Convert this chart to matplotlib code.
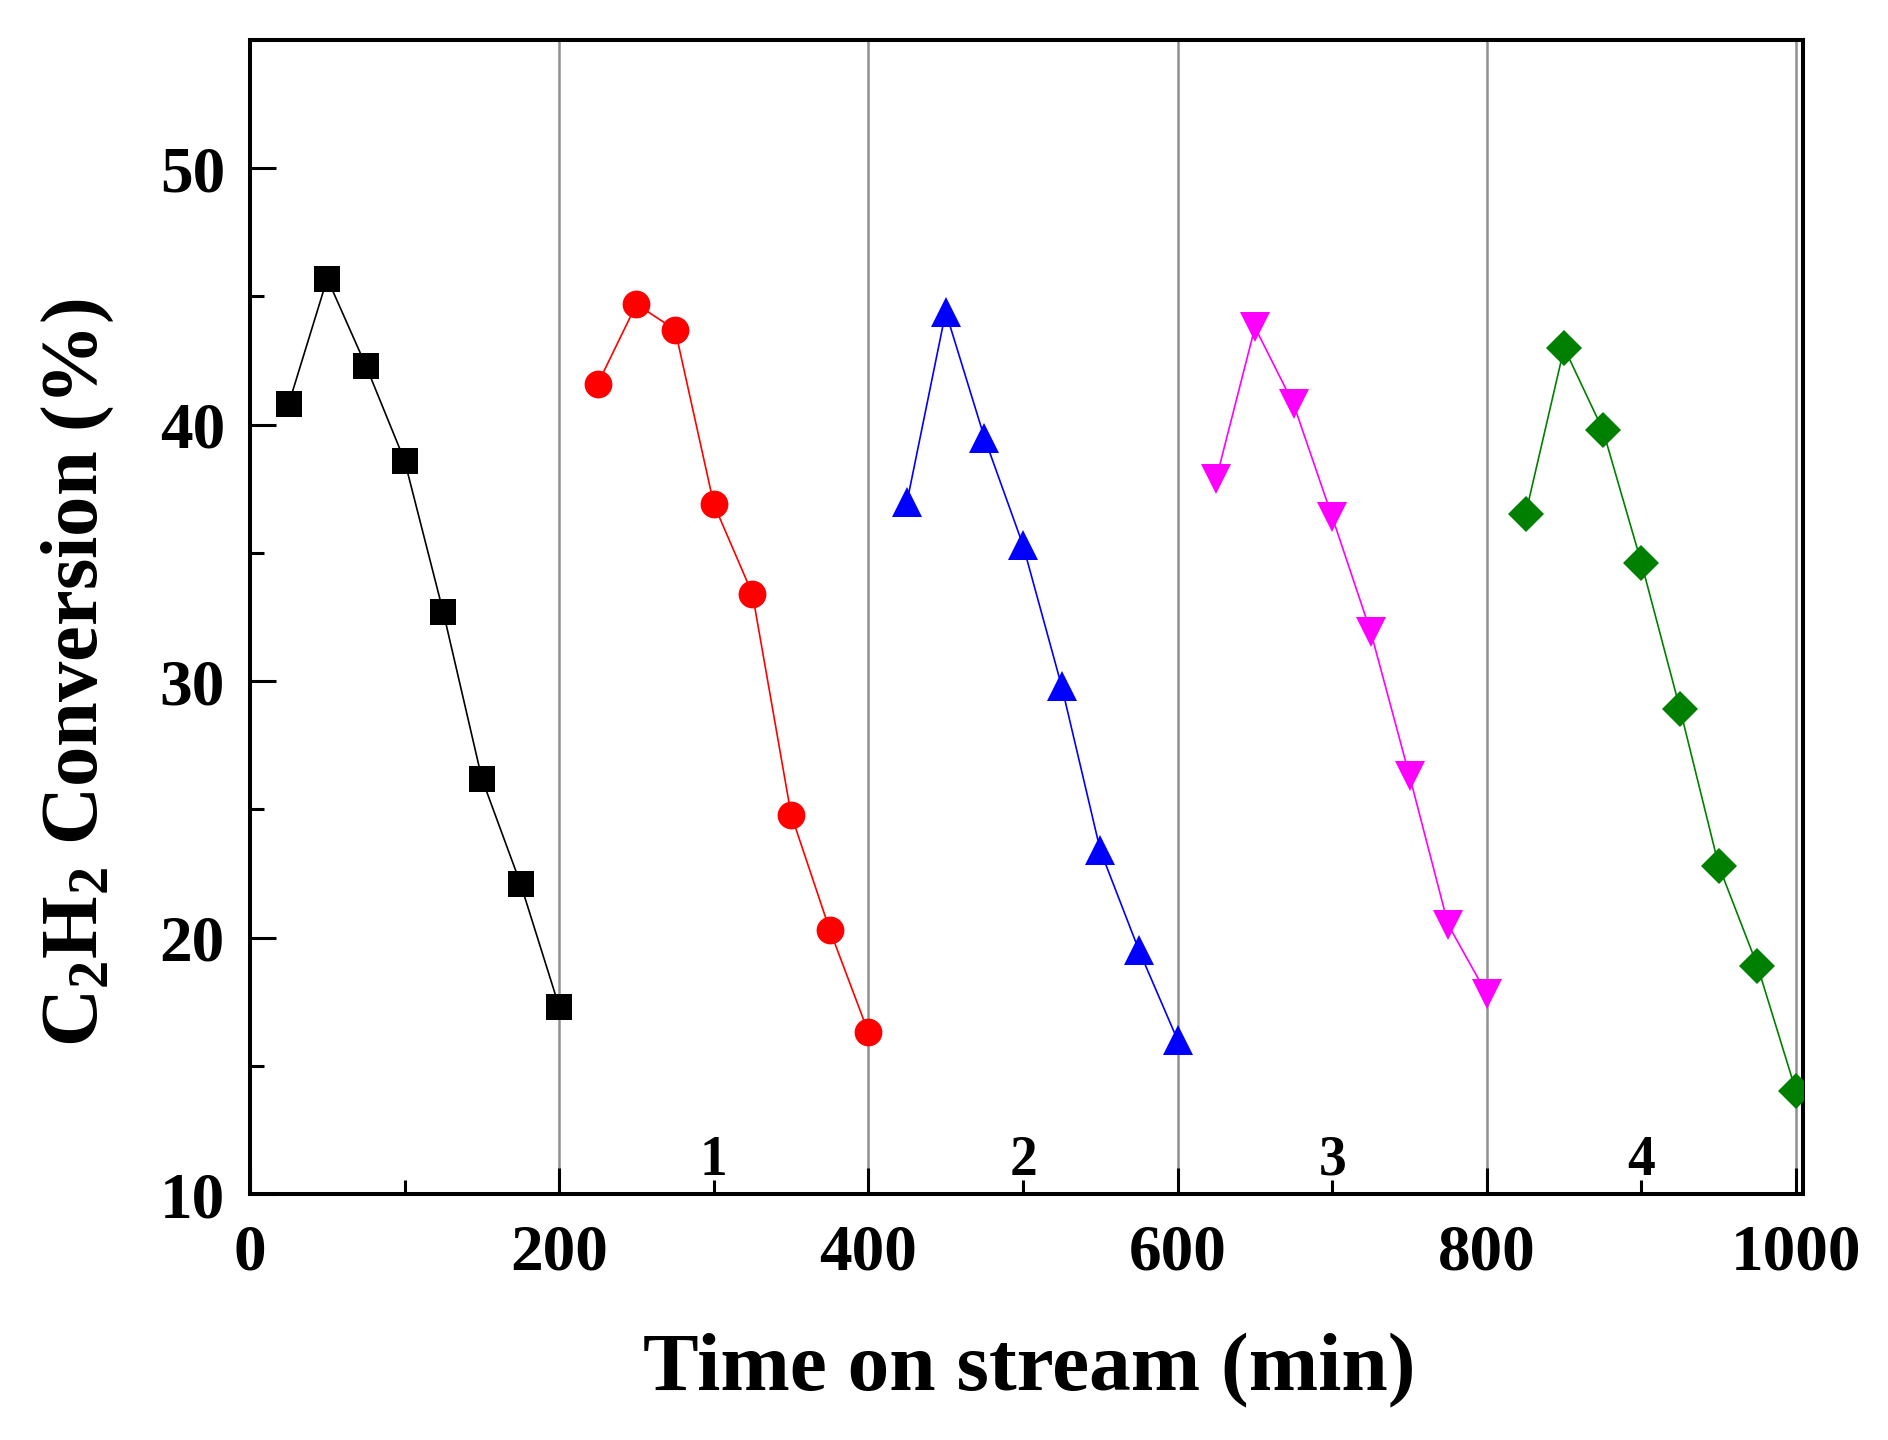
import numpy as np
import matplotlib
matplotlib.use("Agg")
import matplotlib.pyplot as plt
from matplotlib.ticker import MultipleLocator

plt.rcParams['font.family'] = ['Liberation Serif', 'DejaVu Serif']
plt.rcParams['font.weight'] = 'bold'
plt.rcParams['mathtext.fontset'] = 'custom'
plt.rcParams['mathtext.rm'] = 'Liberation Serif:bold'
plt.rcParams['mathtext.it'] = 'Liberation Serif:bold:italic'
plt.rcParams['mathtext.bf'] = 'Liberation Serif:bold'
plt.rcParams['mathtext.default'] = 'rm'

# data (time in min, C2H2 conversion in %)
t_fresh = [25, 50, 75, 100, 125, 150, 175, 200]
c_fresh = [40.8, 45.7, 42.3, 38.6, 32.7, 26.2, 22.1, 17.3]

t_run1 = [225, 250, 275, 300, 325, 350, 375, 400]
c_run1 = [41.6, 44.7, 43.7, 36.9, 33.4, 24.8, 20.3, 16.3]

t_run2 = [425, 450, 475, 500, 525, 550, 575, 600]
c_run2 = [37.0, 44.4, 39.5, 35.3, 29.8, 23.4, 19.5, 16.0]

t_run3 = [625, 650, 675, 700, 725, 750, 775, 800]
c_run3 = [37.9, 43.8, 40.8, 36.4, 31.9, 26.3, 20.5, 17.8]

t_run4 = [825, 850, 875, 900, 925, 950, 975, 1000]
c_run4 = [36.5, 43.0, 39.8, 34.6, 28.9, 22.8, 18.9, 14.0]

cycle_edges = [200, 400, 600, 800, 1000]
cycle_pos = [300, 500, 700, 900]
cycle_labels = ['1', '2', '3', '4']

fig = plt.figure(figsize=(18.88, 14.4), dpi=100)
ax = fig.add_axes([0.1324, 0.1708, 0.8226, 0.8014])

for xe in cycle_edges:
    ax.axvline(xe, color='#909090', lw=1.8, zorder=1)

series = [
    (t_fresh, c_fresh, 'black', 's', 19),
    (t_run1, c_run1, 'red', 'o', 20),
    (t_run2, c_run2, 'blue', '^', 21),
    (t_run3, c_run3, 'magenta', 'v', 21),
    (t_run4, c_run4, 'green', 'D', 18),
]
for t, c, col, mk, ms in series:
    ax.plot(t, c, color=col, lw=1.2, marker=mk, markersize=ms,
            markeredgewidth=0, zorder=3)

for xp, lab in zip(cycle_pos, cycle_labels):
    ax.text(xp, 10.75, lab, ha='center', va='baseline', fontsize=40,
            fontweight='bold')

ax.set_xlim(0, 1004.5)
ax.set_ylim(10, 55)
ax.xaxis.set_major_locator(MultipleLocator(200))
ax.xaxis.set_minor_locator(MultipleLocator(100))
ax.yaxis.set_major_locator(MultipleLocator(10))
ax.yaxis.set_minor_locator(MultipleLocator(5))
ax.set_yticks([10, 20, 30, 40, 50])

ax.tick_params(which='both', direction='in', top=False, right=False,
               width=2.2, labelsize=47)
ax.tick_params(axis='x', which='major', length=19, pad=21)
ax.tick_params(axis='y', which='major', length=19, pad=18)
ax.tick_params(which='minor', length=10)
for sp in ax.spines.values():
    sp.set_linewidth(2.9)

ax.set_xlabel('Time on stream (min)', fontsize=60, fontweight='bold')
ax.set_ylabel(r'C$_{2}$H$_{2}$ Conversion (%)', fontsize=58, fontweight='bold')
ax.xaxis.set_label_coords(0.5016, -0.121)
ax.yaxis.set_label_coords(-0.086, 0.452)

fig.savefig('out.png', dpi=100)
